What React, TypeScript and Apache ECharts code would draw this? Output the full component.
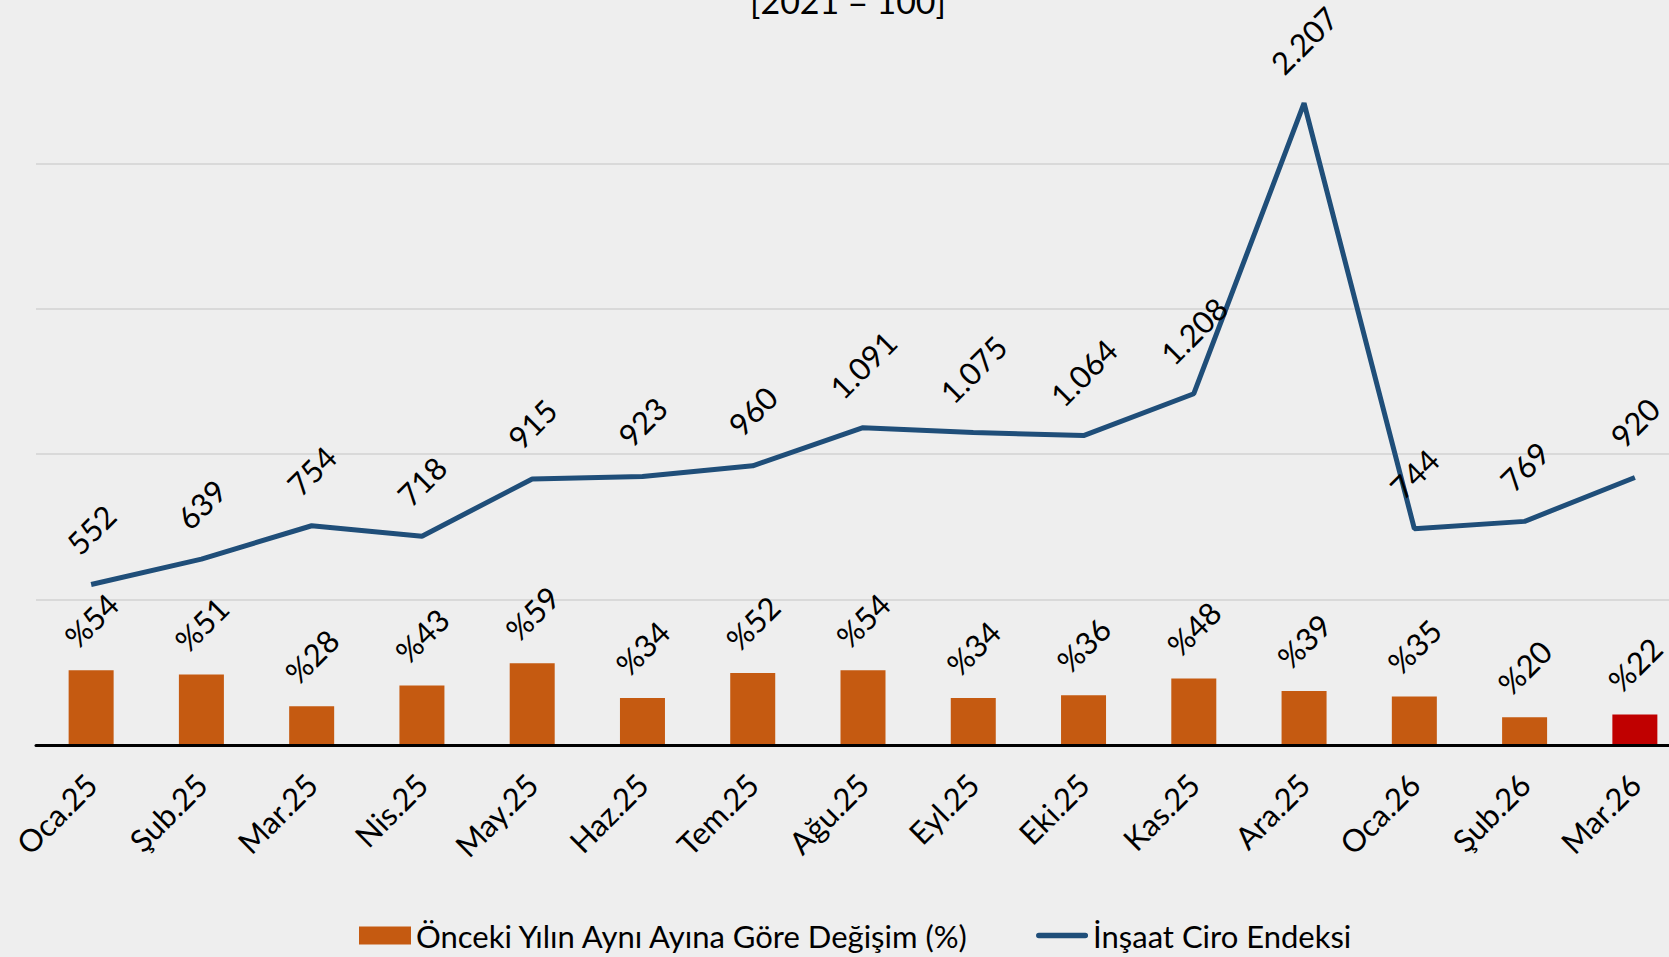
import React, { useEffect, useRef } from "react";
import * as echarts from "echarts";

const categories = ["Oca.25", "Şub.25", "Mar.25", "Nis.25", "May.25", "Haz.25", "Tem.25", "Ağu.25", "Eyl.25", "Eki.25", "Kas.25", "Ara.25", "Oca.26", "Şub.26", "Mar.26"];
const changeValues = [54, 51, 28, 43, 59, 34, 52, 54, 34, 36, 48, 39, 35, 20, 22];
const indexValues = [552, 639, 754, 718, 915, 923, 960, 1091, 1075, 1064, 1208, 2207, 744, 769, 920];
const barName = "Önceki Yılın Aynı Ayına Göre Değişim (%)";
const lineName = "İnşaat Ciro Endeksi";
const subtitle = "[2021 = 100]";

const FONT = "Lato, 'Noto Sans', sans-serif";
const FS = 31;
const BAR_COLOR = "#c55a11";
const LAST_BAR_COLOR = "#c00000";
const LINE_COLOR = "#1f4e79";

const fmt = (v: number) => String(v).replace(/\B(?=(\d{3})+(?!\d))/g, ".");

export default function App() {
  const ref = useRef<HTMLDivElement>(null);
  useEffect(() => {
    if (!ref.current) return;
    const chart = echarts.init(ref.current, null, { renderer: "svg" });
    chart.setOption({
      animation: false,
      backgroundColor: "#eeeeee",
      textStyle: { fontFamily: FONT },
      graphic: [
        {
          type: "text",
          x: 848,
          y: 17,
          style: {
            text: subtitle,
            textAlign: "center",
            textVerticalAlign: "bottom",
            fontSize: 34,
            fontFamily: FONT,
            fill: "#000",
          },
        },
      ],
      legend: {
        left: 354,
        top: 915,
        itemWidth: 52,
        itemHeight: 18,
        itemGap: 66,
        textStyle: { fontSize: FS, color: "#000", fontFamily: FONT },
        data: [
          { name: barName, icon: "rect" },
          { name: lineName, icon: "path://M3,0 H53 A3,3 0 0 1 53,6 H3 A3,3 0 0 1 3,0 Z" },
        ],
      },
      grid: { left: 36, right: 10, top: 18, bottom: 212, containLabel: false },
      xAxis: {
        type: "category",
        data: categories,
        axisLine: { lineStyle: { color: "#000", width: 3 } },
        axisTick: { show: false },
        axisLabel: { rotate: 45, margin: 34, fontSize: FS, color: "#000", interval: 0, fontFamily: FONT },
        z: 5,
      },
      yAxis: [
        {
          type: "value",
          min: 0,
          max: 2500,
          interval: 500,
          axisLabel: { show: false },
          axisLine: { show: false },
          axisTick: { show: false },
          splitLine: { show: true, showMaxLine: false, lineStyle: { color: "#d9d9d9", width: 2 } },
        },
        {
          type: "value",
          min: 0,
          max: 525,
          show: false,
          splitLine: { show: false },
        },
      ],
      series: [
        {
          name: barName,
          type: "bar",
          yAxisIndex: 1,
          barWidth: 45,
          itemStyle: { color: BAR_COLOR },
          data: changeValues.map((v, i) => ({
            value: v,
            itemStyle: { color: i === changeValues.length - 1 ? LAST_BAR_COLOR : BAR_COLOR },
          })),
          label: {
            show: true,
            position: "top",
            distance: 50,
            rotate: 45,
            align: "center",
            verticalAlign: "middle",
            formatter: (p: any) => "%" + p.value,
            fontSize: FS,
            color: "#000",
            fontFamily: FONT,
          },
        },
        {
          name: lineName,
          type: "line",
          yAxisIndex: 0,
          symbol: "circle",
          symbolSize: 0,
          showSymbol: true,
          lineStyle: { color: LINE_COLOR, width: 5 },
          itemStyle: { color: LINE_COLOR },
          data: indexValues.map((v) => ({
            value: v,
            label: { distance: fmt(v).length > 3 ? 63 : 55 },
          })),
          label: {
            show: true,
            position: "top",
            rotate: 45,
            align: "center",
            verticalAlign: "middle",
            formatter: (p: any) => fmt(p.value),
            fontSize: FS,
            color: "#000",
            fontFamily: FONT,
          },
          z: 3,
        },
      ],
    });
    return () => chart.dispose();
  }, []);
  return (
    <div style={{ position: "absolute", left: 0, top: 0, width: 1669, height: 957, overflow: "hidden" }}>
      <div ref={ref} style={{ position: "absolute", left: 0, top: 0, width: 1700, height: 957 }} />
    </div>
  );
}
